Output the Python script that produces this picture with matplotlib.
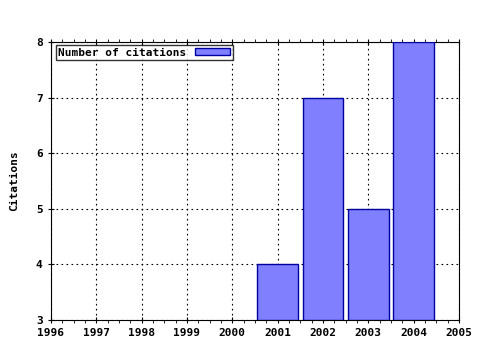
import matplotlib
matplotlib.use("Agg")
import matplotlib.pyplot as plt
from matplotlib.ticker import MultipleLocator

years = [2001, 2002, 2003, 2004]
citations = [4, 7, 5, 8]
xticks = list(range(1996, 2006))
yticks = [3, 4, 5, 6, 7, 8]

plt.rcParams['font.family'] = ['DejaVu Sans Mono']
plt.rcParams['font.weight'] = 'bold'

fig = plt.figure(figsize=(4.8, 3.5), dpi=100)
ax = fig.add_axes([51/480, 1-320/350, 408/480, 278/350])
ax.bar(years, [c - 3 for c in citations], bottom=3, width=0.9,
       color='#8080ff', edgecolor='#0000a0', linewidth=1, label='Number of citations', zorder=3)
ax.set_xlim(1996, 2005)
ax.set_ylim(3, 8)
ax.set_xticks(xticks)
ax.set_yticks(yticks)
ax.xaxis.set_minor_locator(MultipleLocator(0.25))
ax.grid(True, which='major', color='black', linestyle=(0, (1.5, 3)), linewidth=0.8, zorder=0)
ax.tick_params(axis='both', which='major', direction='inout', length=5, labelsize=8, width=0.8)
ax.tick_params(axis='x', which='minor', direction='out', length=2, width=0.6, top=True)
ax.tick_params(axis='x', which='major', top=True)
for lab in ax.get_xticklabels() + ax.get_yticklabels():
    lab.set_fontweight('bold')
ax.set_ylabel('Citations', fontsize=8, fontweight='bold', labelpad=12)
for s in ax.spines.values():
    s.set_linewidth(0.8)
leg = ax.legend(loc='upper left', fontsize=8, frameon=True, fancybox=False,
                edgecolor='black', borderpad=0.2, handlelength=3.2, handleheight=0.6,
                borderaxespad=0.3, markerfirst=False, bbox_to_anchor=(0.003, 1.0))
leg.get_frame().set_linewidth(1)
for t in leg.get_texts():
    t.set_fontweight('bold')
fig.savefig('out.png', dpi=100)
